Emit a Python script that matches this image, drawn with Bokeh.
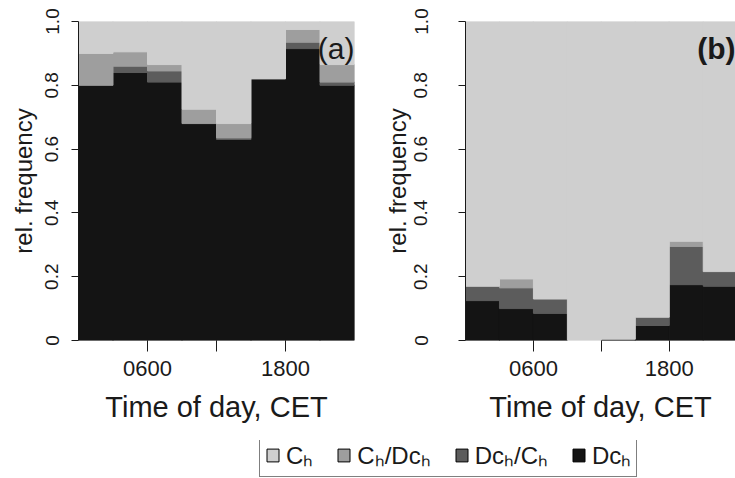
from bokeh.plotting import figure
from bokeh.layouts import column, row
from bokeh.models import (ColumnDataSource, FixedTicker, Range1d, Label,
                          Legend, LegendItem, CDSView, BooleanFilter)
from bokeh.transform import stack
from bokeh.embed import file_html
from bokeh.resources import INLINE

# ---------------- data ----------------
bin_start = [0, 3, 6, 9, 12, 15, 18, 21]
bin_end = [3, 6, 9, 12, 15, 18, 21, 24]
x_ticks = [6, 12, 18]
x_tick_labels = {6: "0600", 12: "", 18: "1800"}
y_ticks = [0, 0.2, 0.4, 0.6, 0.8, 1.0]
y_tick_labels = {0: "0", 1: "1.0"}

# stacked from bottom to top
series_keys = ["dch", "dch_ch", "ch_dch", "ch"]
legend_labels = {"ch": "Cₕ", "ch_dch": "Cₕ/Dcₕ", "dch_ch": "Dcₕ/Cₕ", "dch": "Dcₕ"}
legend_order = ["ch", "ch_dch", "dch_ch", "dch"]
colors = {"ch": "#cfcfcf", "ch_dch": "#9e9e9e", "dch_ch": "#5c5c5c", "dch": "#141414"}

# panel (a)
a_dch    = [0.80, 0.84, 0.81, 0.68, 0.63, 0.82, 0.915, 0.80]
a_dch_ch = [0.00, 0.02, 0.035, 0.00, 0.005, 0.00, 0.02, 0.01]
a_ch_dch = [0.10, 0.045, 0.02, 0.045, 0.045, 0.00, 0.04, 0.055]
a_ch     = [0.10, 0.095, 0.135, 0.275, 0.32, 0.18, 0.025, 0.135]

# panel (b)
b_dch    = [0.125, 0.10, 0.085, 0.0, 0.004, 0.047, 0.175, 0.17]
b_dch_ch = [0.045, 0.065, 0.045, 0.0, 0.0, 0.026, 0.12, 0.046]
b_ch_dch = [0.0, 0.028, 0.0, 0.0, 0.0, 0.0, 0.016, 0.0]
b_ch     = [0.83, 0.807, 0.87, 1.0, 0.996, 0.927, 0.689, 0.784]

FONT = "Liberation Sans"
TXT = "#1a1a1a"
ROW_H = 440


def make_panel(vals, width, border_left, border_right, x_end, tag, tag_bold,
               ytick_standoff, ylabel_standoff):
    data = dict(left=bin_start, right=bin_end)
    for k, v in zip(series_keys, vals):
        data[k] = v
    src = ColumnDataSource(data)
    p = figure(width=width, height=ROW_H, output_backend="svg", toolbar_location=None,
               x_range=Range1d(0, x_end), y_range=Range1d(0, 1),
               min_border_left=border_left, min_border_right=border_right,
               min_border_top=21, min_border_bottom=100)
    for i, k in enumerate(series_keys):
        bottom = stack(*series_keys[:i]) if i > 0 else 0
        view = CDSView(filter=BooleanFilter([v > 0 for v in data[k]]))
        p.quad(left="left", right="right", bottom=bottom,
               top=stack(*series_keys[:i + 1]), source=src, view=view,
               fill_color=colors[k], line_color=colors[k], line_width=1)
    p.outline_line_color = None
    p.grid.visible = False
    p.background_fill_color = "white"
    p.border_fill_color = "white"

    xa = p.xaxis[0]
    xa.ticker = FixedTicker(ticks=x_ticks)
    xa.major_label_overrides = x_tick_labels
    xa.axis_line_color = None
    xa.major_tick_in = 0
    xa.major_tick_out = 11
    xa.major_tick_line_color = TXT
    xa.minor_tick_line_color = None
    xa.major_label_standoff = 9
    xa.major_label_text_font = FONT
    xa.major_label_text_font_size = "22px"
    xa.major_label_text_color = TXT
    xa.axis_label = "Time of day, CET"
    xa.axis_label_text_font = FONT
    xa.axis_label_text_font_size = "29px"
    xa.axis_label_text_font_style = "normal"
    xa.axis_label_text_color = TXT
    xa.axis_label_standoff = 12

    ya = p.yaxis[0]
    ya.ticker = FixedTicker(ticks=y_ticks)
    ya.major_label_overrides = y_tick_labels
    ya.axis_line_color = TXT
    ya.major_tick_in = 0
    ya.major_tick_out = 7
    ya.major_tick_line_color = TXT
    ya.minor_tick_line_color = None
    ya.major_label_orientation = "vertical"
    ya.major_label_standoff = ytick_standoff
    ya.major_label_text_font = FONT
    ya.major_label_text_font_size = "19px"
    ya.major_label_text_color = TXT
    ya.axis_label = "rel. frequency"
    ya.axis_label_text_font = FONT
    ya.axis_label_text_font_size = "24px"
    ya.axis_label_text_font_style = "normal"
    ya.axis_label_text_color = TXT
    ya.axis_label_standoff = ylabel_standoff

    p.add_layout(Label(x=x_end, y=0.915, text=tag, text_align="right",
                       text_baseline="middle", text_font=FONT, text_font_size="30px",
                       text_font_style="bold" if tag_bold else "normal",
                       text_color=TXT))
    return p, src


pa, src_a = make_panel([a_dch, a_dch_ch, a_ch_dch, a_ch], 380, 78, 26, 24,
                       "(a)", False, 13, 6)
pb, src_b = make_panel([b_dch, b_dch_ch, b_ch_dch, b_ch], 355, 84, 0, 23.85,
                       "(b)", True, 31, 1)

# legend panel (its glyphs reuse panel (a)'s data, kept outside this panel's view)
pl = figure(width=735, height=478 - ROW_H, output_backend="svg", toolbar_location=None,
            x_range=Range1d(-2, -1), y_range=Range1d(-2, -1),
            min_border_left=0, min_border_right=0, min_border_top=0, min_border_bottom=0)
pl.axis.visible = False
pl.grid.visible = False
pl.outline_line_color = None
items = []
for k in legend_order:
    r = pl.quad(left="left", right="right", bottom=0, top=k, source=src_a,
                fill_color=colors[k], line_color="black", line_width=1)
    items.append(LegendItem(label=legend_labels[k], renderers=[r]))
leg = Legend(items=items, orientation="horizontal", location=(259, 1),
             label_text_font=FONT, label_text_font_size="24px", label_text_color=TXT,
             glyph_width=15, glyph_height=16, label_standoff=6, spacing=23,
             padding=5, margin=0, border_line_color="black", border_line_width=1,
             background_fill_color="white", background_fill_alpha=1.0)
pl.add_layout(leg, "center")

layout = column(row(pa, pb), pl)

with open("out.html", "w") as f:
    f.write(file_html(layout, INLINE))
